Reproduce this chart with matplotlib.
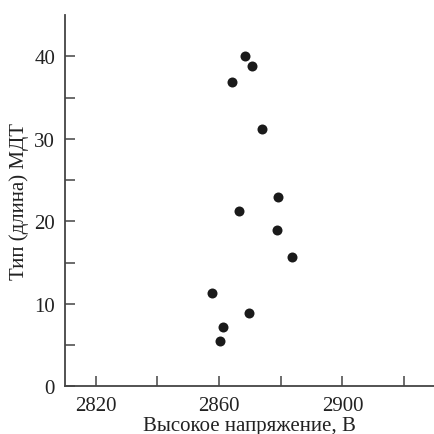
import matplotlib
matplotlib.use("Agg")
import matplotlib.pyplot as plt
from matplotlib.ticker import FixedLocator

voltage = [2868.5, 2870.7, 2864.3, 2873.9, 2879.2, 2866.5, 2878.7, 2883.8, 2857.8, 2869.7, 2861.2, 2860.2]
length = [40.0, 38.8, 36.95, 31.2, 22.96, 21.3, 18.98, 15.7, 11.26, 8.94, 7.2, 5.44]

x_major = [2820, 2860, 2900]
x_minor = [2840, 2880, 2920]
y_major = [0, 10, 20, 30, 40]
y_minor = [5, 15, 25, 35]

x_label = "Высокое напряжение, В"
y_label = "Тип (длина) МДТ"

plt.rcParams['font.family'] = ['Liberation Serif', 'DejaVu Serif']

fig = plt.figure(figsize=(4.35, 4.35), dpi=100)
ax = fig.add_axes([0.149, 0.1097, 0.851, 0.853])

ax.plot(voltage, length, 'o', color='#1a1a1a', markersize=7.2, markeredgewidth=0)

ax.set_xlim(2810, 2930)
ax.set_ylim(0, 45)
ax.xaxis.set_major_locator(FixedLocator(x_major))
ax.xaxis.set_minor_locator(FixedLocator(x_minor))
ax.yaxis.set_major_locator(FixedLocator(y_major))
ax.yaxis.set_minor_locator(FixedLocator(y_minor))

for s in ['top', 'right']:
    ax.spines[s].set_visible(False)
for s in ['left', 'bottom']:
    ax.spines[s].set_linewidth(1.3)
    ax.spines[s].set_color('#444444')

ax.tick_params(which='both', direction='in', length=7, width=1.1, color='#444444',
               labelsize=15, pad=7, labelcolor='#222222')

ax.set_xlabel(x_label, fontsize=15, color='#222222', labelpad=0.5)
ax.set_ylabel(y_label, fontsize=15, color='#222222', labelpad=4)

fig.savefig('out.png', dpi=100)
